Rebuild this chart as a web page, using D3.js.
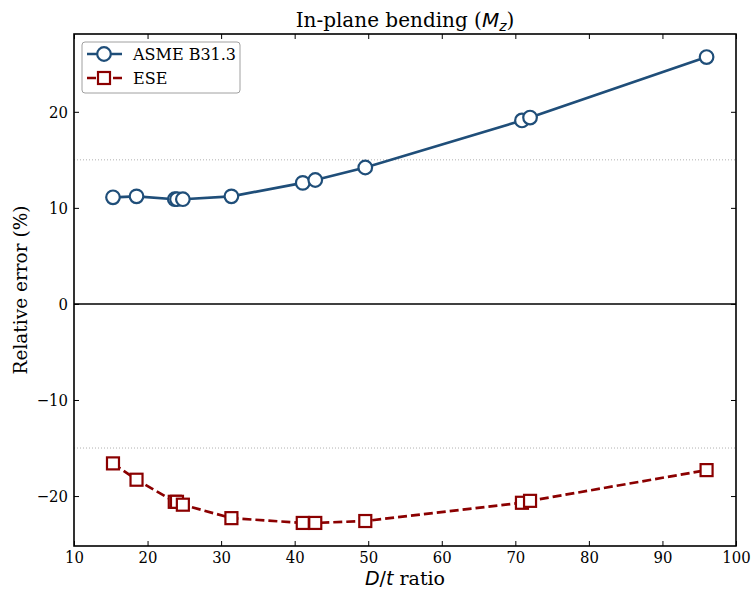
<!DOCTYPE html>
<html lang="en">
<head>
<meta charset="utf-8">
<title>In-plane bending</title>
<script src="https://cdn.jsdelivr.net/npm/d3@7"></script>
<style>
  body { margin: 0; background: #fff; }
</style>
</head>
<body>
<svg id="chart" width="754" height="589"></svg>
<script>
// D/t ratios
var ratios = [15.3, 18.5, 23.7, 24.0, 24.8, 31.4, 41.1, 42.8, 49.6, 70.9, 72.0, 96.0];
// relative errors (%)
var asme = [11.1, 11.2, 10.9, 10.9, 10.9, 11.2, 12.6, 12.9, 14.2, 19.1, 19.4, 25.7];
var ese = [-16.6, -18.3, -20.6, -20.6, -20.9, -22.3, -22.8, -22.8, -22.6, -20.7, -20.5, -17.3];
var xTicks = [10, 20, 30, 40, 50, 60, 70, 80, 90, 100];
var yTicks = [-20, -10, 0, 10, 20];
var refLines = [15, -15];

var serif = "DejaVu Serif", tickFont = "DejaVu Serif Condensed", mathFont = "DejaVu Sans";

var margin = {top: 34, right: 18, bottom: 43, left: 74};
var width = 754 - margin.left - margin.right,
    height = 589 - margin.top - margin.bottom;

var svg = d3.select("#chart");
var g = svg.append("g")
    .attr("transform", "translate(" + margin.left + "," + margin.top + ")");

var x = d3.scaleLinear().domain([10, 100]).range([0, width]);
var y = d3.scaleLinear().domain([-25.2, 28.1]).range([height, 0]);

// dotted reference lines
g.selectAll(".ref")
  .data(refLines)
  .enter().append("line")
    .attr("x1", 0).attr("x2", width)
    .attr("y1", function(d){ return y(d); })
    .attr("y2", function(d){ return y(d); })
    .attr("stroke", "#b0b0b0")
    .attr("stroke-width", 1)
    .attr("stroke-dasharray", "1,2");

// zero line
g.append("line")
  .attr("x1", 0).attr("x2", width)
  .attr("y1", y(0)).attr("y2", y(0))
  .attr("stroke", "#000").attr("stroke-width", 1.6);

// axes, ticks inward on all sides
function styleAxis(sel) {
  sel.select(".domain").remove();
  sel.selectAll("line").attr("stroke", "#000").attr("stroke-width", 1);
  sel.selectAll("text").attr("font-size", 16.5).attr("fill", "#000")
    .attr("font-family", tickFont);
}
g.append("g").attr("transform", "translate(0," + height + ")")
  .call(d3.axisBottom(x).tickValues(xTicks).tickSize(-5).tickPadding(5))
  .call(styleAxis);
g.append("g")
  .call(d3.axisTop(x).tickValues(xTicks).tickSize(-5).tickFormat(""))
  .call(styleAxis);
g.append("g")
  .call(d3.axisLeft(y).tickValues(yTicks).tickSize(-5).tickPadding(6)
    .tickFormat(function(d){ return d < 0 ? "\u2212" + Math.abs(d) : d; }))
  .call(styleAxis);
g.append("g").attr("transform", "translate(" + width + ",0)")
  .call(d3.axisRight(y).tickValues(yTicks).tickSize(-5).tickFormat(""))
  .call(styleAxis);

g.append("rect")
  .attr("width", width).attr("height", height)
  .attr("fill", "none").attr("stroke", "#000").attr("stroke-width", 1.6);

var line = d3.line()
  .x(function(d){ return x(d[0]); })
  .y(function(d){ return y(d[1]); });

var blue = "#1f4e79", red = "#8b0000";
var asmeData = ratios.map(function(r, i){ return [r, asme[i]]; });
var eseData = ratios.map(function(r, i){ return [r, ese[i]]; });

g.append("path").datum(asmeData)
  .attr("d", line).attr("fill", "none")
  .attr("stroke", blue).attr("stroke-width", 2.7);
g.selectAll(".asme").data(asmeData).enter().append("circle")
  .attr("cx", function(d){ return x(d[0]); })
  .attr("cy", function(d){ return y(d[1]); })
  .attr("r", 6.8)
  .attr("fill", "#fff").attr("stroke", blue).attr("stroke-width", 2.2);

g.append("path").datum(eseData)
  .attr("d", line).attr("fill", "none")
  .attr("stroke", red).attr("stroke-width", 2.7)
  .attr("stroke-dasharray", "9,4");
g.selectAll(".ese").data(eseData).enter().append("rect")
  .attr("x", function(d){ return x(d[0]) - 6; })
  .attr("y", function(d){ return y(d[1]) - 6; })
  .attr("width", 12).attr("height", 12)
  .attr("fill", "#fff").attr("stroke", red).attr("stroke-width", 2.2);

// title
var title = svg.append("text")
  .attr("x", margin.left + width / 2).attr("y", 27)
  .attr("text-anchor", "middle").attr("font-size", 20)
  .attr("font-family", serif);
title.append("tspan").text("In-plane bending (");
title.append("tspan").attr("font-family", mathFont).attr("font-style", "italic").text("M");
title.append("tspan").attr("font-family", mathFont).attr("font-style", "italic")
  .attr("font-size", 14).attr("dy", 4).text("z");
title.append("tspan").attr("dy", -4).text(")");

// x label
var xl = svg.append("text")
  .attr("x", margin.left + width / 2).attr("y", 585)
  .attr("text-anchor", "middle").attr("font-size", 19)
  .attr("font-family", serif);
xl.append("tspan").attr("font-family", mathFont).attr("font-style", "italic").text("D");
xl.append("tspan").attr("font-family", mathFont).text("/");
xl.append("tspan").attr("font-family", mathFont).attr("font-style", "italic").text("t");
xl.append("tspan").text(" ratio");

// y label
svg.append("text")
  .attr("transform", "translate(27," + (margin.top + height / 2) + ") rotate(-90)")
  .attr("text-anchor", "middle").attr("font-size", 18.5)
  .attr("font-family", serif)
  .text("Relative error (%)");

// legend
var leg = svg.append("g").attr("transform", "translate(82,42)");
leg.append("rect")
  .attr("width", 158).attr("height", 51).attr("rx", 3)
  .attr("fill", "#fff").attr("fill-opacity", 0.8)
  .attr("stroke", "#a0a0a0").attr("stroke-width", 1);
var keys = ["ASME B31.3", "ESE"];
keys.forEach(function(k, i){
  var yy = 12 + i * 24;
  var c = i === 0 ? blue : red;
  leg.append("line").attr("x1", 5).attr("x2", 40).attr("y1", yy).attr("y2", yy)
    .attr("stroke", c).attr("stroke-width", 2.7)
    .attr("stroke-dasharray", i === 0 ? null : "9,4");
  if (i === 0) {
    leg.append("circle").attr("cx", 22).attr("cy", yy).attr("r", 6.8)
      .attr("fill", "#fff").attr("stroke", c).attr("stroke-width", 2.2);
  } else {
    leg.append("rect").attr("x", 16).attr("y", yy - 6).attr("width", 12).attr("height", 12)
      .attr("fill", "#fff").attr("stroke", c).attr("stroke-width", 2.2);
  }
  leg.append("text").attr("x", 51).attr("y", yy + 6)
    .attr("font-size", 16).attr("font-family", serif).text(k);
});
</script>
</body>
</html>
